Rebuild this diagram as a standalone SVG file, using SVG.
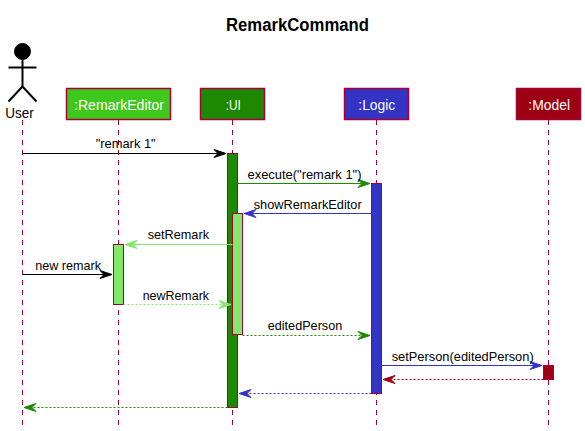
<svg xmlns="http://www.w3.org/2000/svg" width="585" height="431" viewBox="0 0 585 431">
<style>
text{font-family:"Liberation Sans",Arial,sans-serif;font-size:13px;fill:#000}
.title{font-size:18px;font-weight:bold}
.box{font-size:14px;fill:#fff}
.life{stroke:#A80036;stroke-width:1;stroke-dasharray:5,5;fill:none}
.node{stroke:#A80036;stroke-width:1.5}
.act{stroke:#A80036;stroke-width:1}
.a{stroke-width:1;fill:none}
.d{stroke-dasharray:2,2}
.h{stroke-width:1;stroke-linejoin:round}
.actor{stroke:#000;stroke-width:2;fill:none}
</style>
<rect width="585" height="431" fill="#fff"/>
<text class="title" x="226" y="31" textLength="143" lengthAdjust="spacingAndGlyphs">RemarkCommand</text>
<g id="lifelines">
<path class="life" d="M22.5 120V426"/>
<path class="life" d="M118.5 120V426"/>
<path class="life" d="M232.5 120V426"/>
<path class="life" d="M376.5 120V426"/>
<path class="life" d="M548.5 120V426"/>
</g>
<g id="user">
<circle cx="22.5" cy="51.5" r="8" fill="#000" stroke="#000"/>
<path class="actor" d="M22.5 59.5V86.5M8.5 67.5H36.5M8.5 101.5L22.5 86.5L36.5 101.5"/>
<text x="5.3" y="118" style="font-size:14px" textLength="28.5" lengthAdjust="spacingAndGlyphs">User</text>
</g>
<g id="remarkeditor">
<rect class="node" x="66.5" y="88.5" width="104" height="31" fill="#3FC71B"/>
<text class="box" x="74" y="110" textLength="90" lengthAdjust="spacingAndGlyphs">:RemarkEditor</text>
</g>
<g id="ui">
<rect class="node" x="200.5" y="88.5" width="64" height="31" fill="#1D8900"/>
<text class="box" x="225.7" y="110" textLength="15" lengthAdjust="spacingAndGlyphs">:UI</text>
</g>
<g id="logic">
<rect class="node" x="344.5" y="88.5" width="64" height="31" fill="#3333C4"/>
<text class="box" x="358.3" y="110" textLength="37" lengthAdjust="spacingAndGlyphs">:Logic</text>
</g>
<g id="model">
<rect class="node" x="516.5" y="88.5" width="64" height="31" fill="#9D0012"/>
<text class="box" x="528.3" y="110" textLength="41.7" lengthAdjust="spacingAndGlyphs">:Model</text>
</g>
<g id="activations">
<rect class="act" x="227.5" y="153.5" width="10" height="254" fill="#1D8900"/>
<rect class="act" x="232.5" y="213.5" width="10" height="121" fill="#83E769"/>
<rect class="act" x="113.5" y="244.5" width="10" height="60" fill="#83E769"/>
<rect class="act" x="371.5" y="183.5" width="10" height="210" fill="#3333C4"/>
<rect class="act" x="543.5" y="365.5" width="10" height="14" fill="#9D0012" stroke="#9D0012"/>
</g>
<g id="connectors">
<path class="a" stroke="#000" d="M22.5 153.5H222"/><path class="h" fill="#000" stroke="#000" d="M226 153.5L214 149.5L218 153.5L214 157.5Z"/>
<path class="a" stroke="#1D8900" d="M237.5 183.5H367"/><path class="h" fill="#1D8900" stroke="#1D8900" d="M370 183.5L358 179.5L362 183.5L358 187.5Z"/>
<path class="a" stroke="#3333C4" d="M371.5 213.5H248"/><path class="h" fill="#3333C4" stroke="#3333C4" d="M244 213.5L256 209.5L252 213.5L256 217.5Z"/>
<path class="a" stroke="#83E769" d="M232.5 244.5H128"/><path class="h" fill="#83E769" stroke="#83E769" d="M125 244.5L137 240.5L133 244.5L137 248.5Z"/>
<path class="a" stroke="#000" d="M22.5 274.5H108"/><path class="h" fill="#000" stroke="#000" d="M112 274.5L100 270.5L104 274.5L100 278.5Z"/>
<path class="a d" stroke="#83E769" d="M123.5 304.5H227"/><path class="h" fill="#83E769" stroke="#83E769" d="M231 304.5L219 300.500L223 304.5L219 308.5Z"/>
<path class="a d" stroke="#1D8900" d="M242.5 335.5H367"/><path class="h" fill="#1D8900" stroke="#1D8900" d="M370 335.5L358 331.5L362 335.5L358 339.5Z"/>
<path class="a" stroke="#3333C4" d="M381.5 365.5H538"/><path class="h" fill="#3333C4" stroke="#3333C4" d="M542 365.5L530 361.5L534 365.5L530 369.5Z"/>
<path class="a d" stroke="#9D0012" d="M543.500 379.5H387"/><path class="h" fill="#9D0012" stroke="#9D0012" d="M383 379.5L395 375.5L391 379.5L395 383.5Z"/>
<path class="a d" stroke="#3333C4" d="M371.5 393.5H243"/><path class="h" fill="#3333C4" stroke="#3333C4" d="M239 393.5L251 389.5L247 393.5L251 397.5Z"/>
<path class="a d" stroke="#1D8900" d="M227.5 407.5H28"/><path class="h" fill="#1D8900" stroke="#1D8900" d="M24 407.5L36 403.5L32 407.5L36 411.5Z"/>
</g>
<g id="labels">
<text x="95.7" y="148" textLength="60" lengthAdjust="spacingAndGlyphs">"remark 1"</text>
<text x="247.5" y="179" textLength="114" lengthAdjust="spacingAndGlyphs">execute("remark 1")</text>
<text x="253.7" y="209" textLength="108" lengthAdjust="spacingAndGlyphs">showRemarkEditor</text>
<text x="147.7" y="239" textLength="61.3" lengthAdjust="spacingAndGlyphs">setRemark</text>
<text x="35.3" y="270" textLength="65.7" lengthAdjust="spacingAndGlyphs">new remark</text>
<text x="142.7" y="300" textLength="66.3" lengthAdjust="spacingAndGlyphs">newRemark</text>
<text x="267.7" y="330" textLength="74.6" lengthAdjust="spacingAndGlyphs">editedPerson</text>
<text x="391.7" y="361" textLength="142" lengthAdjust="spacingAndGlyphs">setPerson(editedPerson)</text>
</g>
</svg>
